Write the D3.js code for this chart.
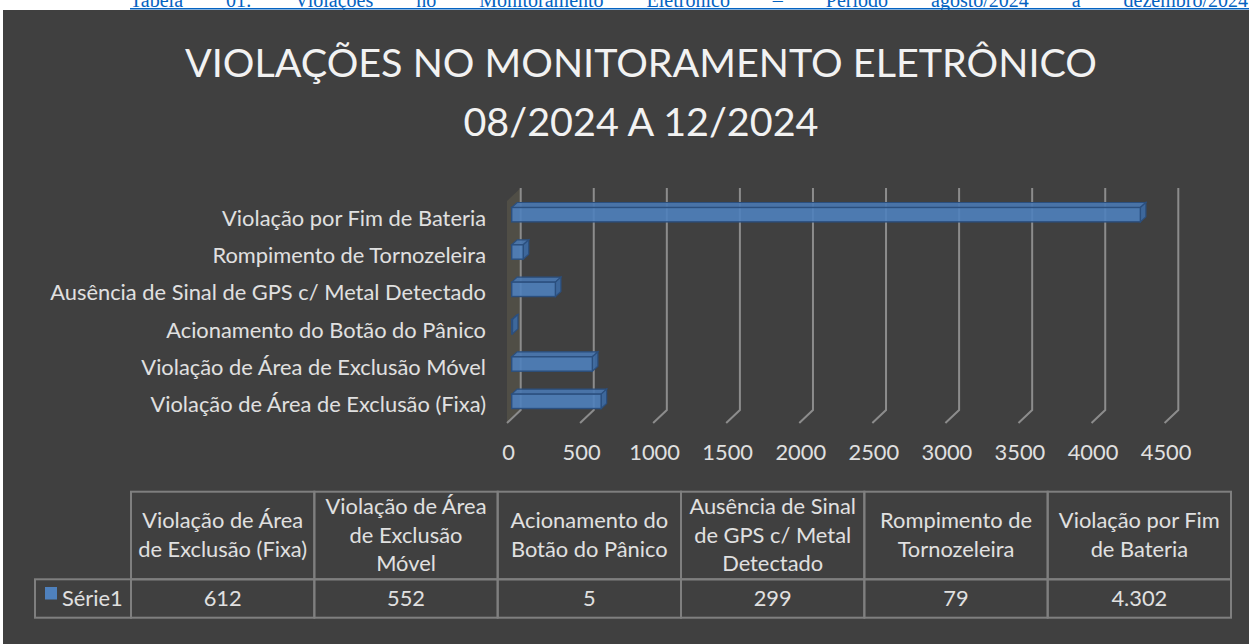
<!DOCTYPE html>
<html><head><meta charset="utf-8">
<script src="https://cdn.jsdelivr.net/npm/d3@7"></script>
<style>body{margin:0;background:#fff;overflow:hidden} svg{display:block}</style>
</head><body><svg id="c" width="1249" height="644"></svg>
<script>
// ---------- data ----------
const categories = [
  "Violação de Área de Exclusão (Fixa)",
  "Violação de Área de Exclusão Móvel",
  "Acionamento do Botão do Pânico",
  "Ausência de Sinal de GPS c/ Metal Detectado",
  "Rompimento de Tornozeleira",
  "Violação por Fim de Bateria"
];
const values = [612, 552, 5, 299, 79, 4302];
const headerLines = [
  ["Violação de Área", "de Exclusão (Fixa)"],
  ["Violação de Área", "de Exclusão", "Móvel"],
  ["Acionamento do", "Botão do Pânico"],
  ["Ausência de Sinal", "de GPS c/ Metal", "Detectado"],
  ["Rompimento de", "Tornozeleira"],
  ["Violação por Fim", "de Bateria"]
];
const xTicks = [0, 500, 1000, 1500, 2000, 2500, 3000, 3500, 4000, 4500];
const seriesName = "Série1";
const titleLines = ["VIOLAÇÕES NO MONITORAMENTO ELETRÔNICO", "08/2024 A 12/2024"];
const captionText = "Tabela 01: Violações no Monitoramento Eletrônico – Período agosto/2024 a dezembro/2024";

// ---------- setup ----------
const svg = d3.select("#c");
const FONT = "Lato, 'Open Sans', sans-serif";
const ptBR = d3.formatLocale({decimal: ",", thousands: ".", grouping: [3], currency: ["R$", ""]});
const fmt = ptBR.format(",");

function measure(txt, size, weight) {
  const t = svg.append("text").attr("font-family", FONT).attr("font-size", size)
    .attr("font-weight", weight || 400).text(txt);
  const w = t.node().getComputedTextLength(); t.remove(); return w;
}

// caption (cut off at top, as in the source page)
const capWords = captionText.split(" ");
const capG = svg.append("g");
const capSize = 20, capX0 = 130, capX1 = 1248;
const capW = capWords.map(w => { const t = svg.append("text").attr("font-family", "'Liberation Serif', serif").attr("font-size", capSize).text(w); const l = t.node().getComputedTextLength(); t.remove(); return l; });
const gap = (capX1 - capX0 - d3.sum(capW)) / (capWords.length - 1);
let cx = capX0;
capWords.forEach((w, i) => {
  capG.append("text").attr("x", cx).attr("y", 7).attr("font-family", "'Liberation Serif', serif")
    .attr("font-size", capSize).attr("fill", "#0563c1").text(w);
  cx += capW[i] + gap;
});
capG.append("line").attr("x1", capX0).attr("x2", 1249).attr("y1", 8.8).attr("y2", 8.8)
  .attr("stroke", "#0563c1").attr("stroke-width", 1.5);

// background
svg.append("rect").attr("x", 3).attr("y", 10).attr("width", 1246).attr("height", 634).attr("fill", "#404040");

// title
const tSize = 44 * 912 / measure(titleLines[0], 44, 400);
svg.selectAll("text.title").data(titleLines).join("text").attr("class", "title")
  .attr("x", 641).attr("y", (d, i) => i === 0 ? 77 : 136)
  .attr("text-anchor", "middle").attr("font-family", FONT).attr("font-weight", 400)
  .attr("font-size", tSize).attr("fill", "#f2f2f2").text(d => d);

// font size for labels
const lSize = 20 * 436 / measure(categories[3], 20);

// scales
const x = d3.scaleLinear().domain([0, 4500]).range([0, 657.6]);
const y = d3.scaleBand().domain(categories.slice().reverse()).range([196, 420]);
const FRONT_X = 507, FRONT_Y = 423, BACK_X = 520.7, BACK_Y = 410, TOP_Y = 188;
const BAR_X = 511.7, DX = 5.5, DY = 5, BAR_H = y.bandwidth() * 0.385;

// side wall
svg.append("path")
  .attr("d", `M${FRONT_X},${TOP_Y + 13}L${BACK_X},${TOP_Y}L${BACK_X},${BACK_Y}L${FRONT_X},${FRONT_Y}Z`)
  .attr("fill", "#504e46");

// gridlines
svg.selectAll("path.grid").data(xTicks).join("path").attr("class", "grid")
  .attr("d", t => `M${BACK_X + x(t)},${TOP_Y}L${BACK_X + x(t)},${BACK_Y}L${FRONT_X + x(t)},${FRONT_Y}`)
  .attr("fill", "none").attr("stroke", "#8c8c8c").attr("stroke-width", 2);

// tick labels
svg.selectAll("text.tick").data(xTicks).join("text").attr("class", "tick")
  .attr("x", t => FRONT_X + 1.5 + x(t)).attr("y", 460).attr("text-anchor", "middle")
  .attr("font-family", FONT).attr("font-size", lSize).attr("fill", "#e0e0e0").text(t => t);

// category labels
svg.selectAll("text.cat").data(categories).join("text").attr("class", "cat")
  .attr("x", 486).attr("y", d => y(d) + y.bandwidth() / 2 + 11).attr("text-anchor", "end")
  .attr("font-family", FONT).attr("font-size", lSize).attr("fill", "#e0e0e0").text(d => d);

// 3D bars
const data = categories.map((c, i) => ({c, v: values[i]}));
const bars = svg.selectAll("g.bar").data(data).join("g").attr("class", "bar");
bars.each(function(d) {
  const g = d3.select(this);
  const x0 = BAR_X + x(0), x1 = BAR_X + x(d.v);
  const yc = y(d.c) + y.bandwidth() / 2, y0 = yc - BAR_H / 2, y1 = yc + BAR_H / 2;
  g.append("path").attr("d", `M${x0},${y0}L${x0 + DX},${y0 - DY}L${x1 + DX},${y0 - DY}L${x1},${y0}Z`)
    .attr("fill", "#4a77b0").attr("fill-opacity", 0.92).attr("stroke", "#2b4f7e").attr("stroke-width", 1.2);
  g.append("path").attr("d", `M${x1},${y0}L${x1 + DX},${y0 - DY}L${x1 + DX},${y1 - DY}L${x1},${y1}Z`)
    .attr("fill", "#3d6aa3").attr("fill-opacity", 0.92).attr("stroke", "#2b4f7e").attr("stroke-width", 1.2);
  g.append("rect").attr("x", x0).attr("y", y0).attr("width", x1 - x0).attr("height", BAR_H)
    .attr("fill", "#4f81bd").attr("fill-opacity", 0.9).attr("stroke", "#2b4f7e").attr("stroke-width", 1.4);
});

// data table
const col = d3.scaleBand().domain(categories).range([131, 1231]);
const HT = 491.7, HB = 579.3, VB = 617.7, LEG_X = 35;
const tbl = svg.append("g");
const border = "#7f7f7f";
tbl.selectAll("rect.hcell").data(categories).join("rect").attr("class", "hcell")
  .attr("x", d => col(d)).attr("y", HT).attr("width", col.bandwidth()).attr("height", HB - HT)
  .attr("fill", "none").attr("stroke", border).attr("stroke-width", 2);
tbl.selectAll("rect.vcell").data(categories).join("rect").attr("class", "vcell")
  .attr("x", d => col(d)).attr("y", HB).attr("width", col.bandwidth()).attr("height", VB - HB)
  .attr("fill", "none").attr("stroke", border).attr("stroke-width", 2);
tbl.append("rect").attr("x", LEG_X).attr("y", HB).attr("width", 131 - LEG_X).attr("height", VB - HB)
  .attr("fill", "none").attr("stroke", border).attr("stroke-width", 2);

const hc = (HT + HB) / 2, LH = 28.3;
categories.forEach((c, i) => {
  const lines = headerLines[i];
  tbl.selectAll(null).data(lines).join("text")
    .attr("x", col(c) + col.bandwidth() / 2)
    .attr("y", (l, j) => hc + 7 + (j - (lines.length - 1) / 2) * LH)
    .attr("text-anchor", "middle").attr("font-family", FONT).attr("font-size", lSize)
    .attr("fill", "#e0e0e0").text(l => l);
});
tbl.selectAll("text.val").data(data).join("text").attr("class", "val")
  .attr("x", d => col(d.c) + col.bandwidth() / 2).attr("y", (HB + VB) / 2 + 7)
  .attr("text-anchor", "middle").attr("font-family", FONT).attr("font-size", lSize)
  .attr("fill", "#e0e0e0").text(d => fmt(d.v));
tbl.append("rect").attr("x", 45).attr("y", 587).attr("width", 12).attr("height", 12.5).attr("fill", "#4f81bd");
tbl.append("text").attr("x", 62).attr("y", (HB + VB) / 2 + 7).attr("font-family", FONT)
  .attr("font-size", lSize).attr("fill", "#e0e0e0").text(seriesName);
</script></body></html>
